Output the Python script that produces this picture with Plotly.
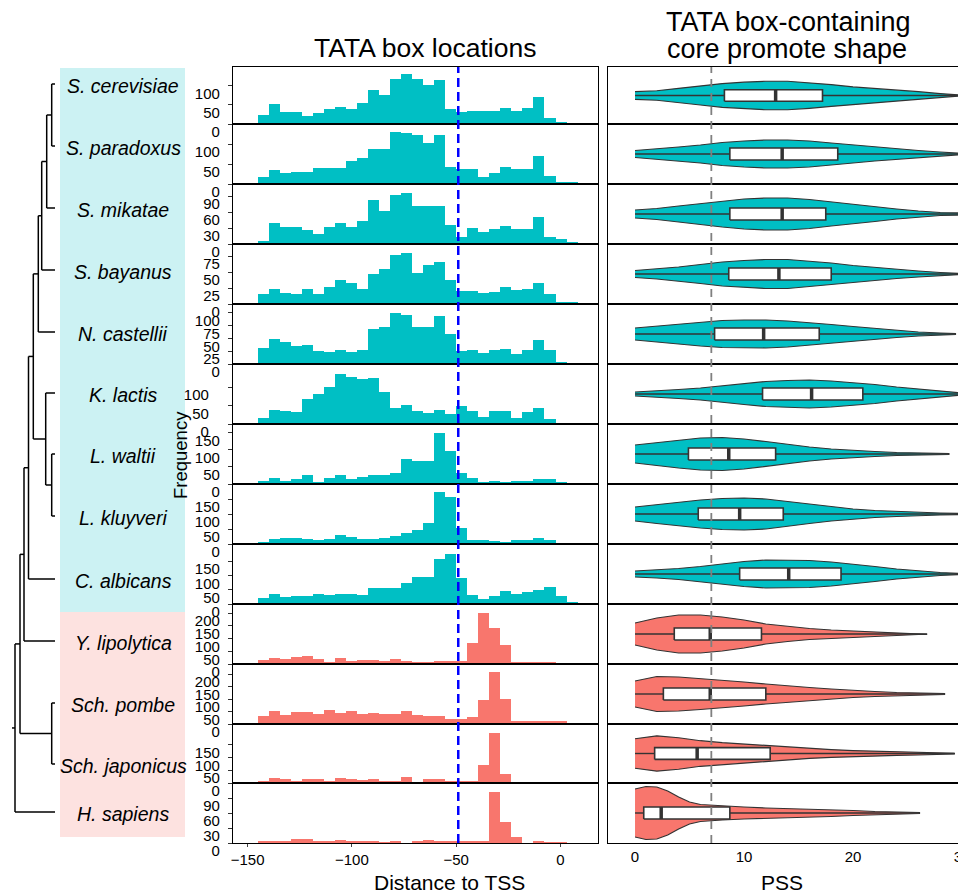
import plotly.graph_objects as go
import numpy as np

W, H = 966, 894
PAGE_OFFSET = 8  # default body margin of the html page

# ---------------- DATA ----------------
species = ["S. cerevisiae", "S. paradoxus", "S. mikatae", "S. bayanus", "N. castellii",
           "K. lactis", "L. waltii", "L. kluyveri", "C. albicans",
           "Y. lipolytica", "Sch. pombe", "Sch. japonicus", "H. sapiens"]
clade = ["A"] * 9 + ["B"] * 4

# histogram bins (distance to TSS)
bin_start = -145.2
bin_width = 5.29
n_bins = 29
bin_centers = [bin_start + bin_width * (i + 0.5) for i in range(n_bins)]

counts_scer = [24, 52, 32, 32, 22, 28, 39, 45, 39, 54, 87, 76, 117, 130, 117, 100, 113, 39, 30, 35, 35, 35, 42, 35, 42, 71, 16, 6, 2]
counts_spar = [18, 36, 27, 31, 31, 39, 39, 39, 57, 66, 88, 88, 129, 127, 123, 102, 123, 43, 37, 37, 18, 27, 43, 37, 37, 71, 21, 6, 3]
counts_smik = [6, 40, 32, 31, 26, 19, 32, 40, 31, 44, 83, 62, 92, 96, 71, 71, 71, 36, 13, 30, 23, 28, 34, 28, 28, 51, 13, 9, 2]
counts_sbay = [15, 24, 18, 15, 24, 15, 27, 38, 33, 24, 47, 55, 77, 80, 49, 61, 66, 37, 21, 21, 18, 19, 27, 22, 24, 33, 15, 2, 2]
counts_ncas = [31, 49, 43, 35, 38, 26, 24, 27, 24, 27, 69, 72, 99, 96, 72, 72, 94, 59, 26, 27, 22, 27, 29, 20, 27, 47, 27, 3, 1]
counts_klac = [17, 38, 35, 33, 68, 82, 101, 136, 128, 122, 125, 87, 44, 52, 35, 30, 38, 27, 49, 35, 19, 35, 35, 16, 33, 44, 14, 1, 1]
counts_lwal = [10, 18, 9, 15, 27, 6, 18, 27, 15, 21, 27, 27, 33, 74, 68, 68, 150, 98, 32, 18, 6, 9, 6, 9, 9, 15, 15, 4, 2]
counts_lklu = [7, 18, 20, 20, 18, 14, 18, 31, 24, 18, 18, 21, 28, 38, 48, 71, 173, 158, 54, 14, 14, 11, 8, 14, 14, 20, 14, 3, 1]
counts_calb = [21, 36, 26, 29, 29, 36, 33, 36, 36, 33, 57, 57, 57, 75, 96, 96, 159, 176, 92, 33, 19, 29, 47, 36, 43, 50, 61, 29, 8]
counts_ylip = [17, 25, 21, 29, 33, 21, 9, 25, 13, 17, 17, 13, 21, 13, 5, 5, 13, 13, 13, 84, 202, 143, 76, 5, 9, 9, 5, 1, 0]
counts_spom = [33, 53, 37, 49, 49, 41, 57, 45, 53, 41, 45, 41, 41, 53, 37, 33, 33, 21, 21, 29, 97, 209, 101, 13, 13, 13, 13, 13, 0]
counts_sjap = [8, 18, 14, 8, 14, 14, 8, 18, 14, 11, 14, 8, 8, 22, 3, 14, 14, 8, 8, 8, 69, 195, 34, 0, 3, 3, 3, 0, 0]
counts_hsap = [4, 4, 4, 9, 9, 4, 4, 7, 4, 4, 4, 2, 5, 0, 5, 7, 5, 4, 5, 4, 4, 102, 43, 12, 0, 4, 1, 1, 0]
hist_counts = [counts_scer, counts_spar, counts_smik, counts_sbay, counts_ncas, counts_klac,
               counts_lwal, counts_lklu, counts_calb, counts_ylip, counts_spom, counts_sjap, counts_hsap]

hist_ymax = [148, 150, 112.5, 94, 117, 163, 176, 200, 210, 236, 240, 230, 120]
hist_ticks = [[0, 50, 100], [0, 50, 100], [0, 30, 60, 90], [0, 25, 50, 75], [0, 25, 50, 75, 100],
              [0, 50, 100], [0, 50, 100, 150], [0, 50, 100, 150], [0, 50, 100, 150],
              [0, 50, 100, 150, 200], [0, 50, 100, 150, 200], [0, 50, 100, 150], [0, 30, 60, 90]]
tata_position = -49
dist_ticks = [-150, -100, -50, 0]

# violin profiles (PSS grid, half width) and box statistics
pss_std = [0, 2, 4, 6, 8, 10, 12, 14, 16, 18, 20, 22, 24, 26, 28]
violin_pss = [
    pss_std + [29.7], pss_std + [30.0], pss_std + [29.9], pss_std + [29.9], pss_std + [29.4],
    pss_std + [30.1], pss_std[:-1] + [28.8], pss_std + [30.1], pss_std + [29.8],
    pss_std[:-1] + [26.8], pss_std[:-1] + [28.4], pss_std + [29.3],
    [0, 1, 2, 3, 4, 5, 6, 8, 10, 12, 14, 16, 18, 20, 22, 24, 26.1],
]
violin_half = [
    [4, 5, 7.5, 10, 12.5, 14, 15, 15, 13.5, 11.5, 9, 7.5, 6, 4, 2, 0.5],
    [3.5, 5, 7, 9, 11.5, 13, 14, 14, 13, 11, 9, 7, 5, 3.5, 2, 0.5],
    [4, 5.5, 8, 10.5, 13, 15, 16, 16, 14.5, 12, 9.5, 7.5, 5, 3, 1.5, 1],
    [3.5, 5, 7, 9.5, 12, 13.5, 14.5, 14.5, 13, 11, 8.5, 6.5, 4.5, 3, 1.5, 0.5],
    [6, 8, 10, 12, 13.5, 14, 14, 13, 11.5, 9.5, 7.5, 5.5, 3.5, 2, 1, 0.5],
    [2, 3, 4.5, 6, 8, 10.5, 12.5, 13.5, 14, 13, 11.5, 9.5, 7, 5, 3, 1],
    [9, 11.5, 14, 16, 16.5, 15, 12.5, 9.5, 7, 5, 3.5, 2.5, 1.5, 1, 0.5],
    [7, 9.5, 12, 14, 15.5, 16, 15, 12.5, 9.5, 7, 5, 3.5, 2.5, 1.5, 1, 0.5],
    [3, 4, 5.5, 7.5, 10, 12.5, 14, 14, 13.5, 12, 10, 7.5, 5, 3, 1.5, 0.5],
    [11, 16, 19, 19, 17, 14, 10, 7.5, 5.5, 4, 3, 2, 1.5, 0.5, 0.3],
    [13, 17.5, 17, 15.5, 14, 12, 10, 8, 6.5, 5, 3.5, 2.5, 1.5, 1, 0.5],
    [15, 18, 16, 13, 11, 9.5, 8, 6.5, 5, 4, 3, 2.5, 2, 1.5, 1, 0.3],
    [24, 26.5, 26, 22, 16, 11, 8.5, 7, 6, 5, 4.5, 4, 3.5, 2.5, 1.5, 1, 0.5],
]
box_q1 = [8.2, 8.7, 8.7, 8.6, 7.3, 11.7, 4.9, 5.8, 9.6, 3.6, 2.6, 1.8, 0.8]
box_med = [12.9, 13.5, 13.5, 13.2, 11.8, 16.2, 8.6, 9.6, 14.1, 6.9, 6.9, 5.7, 2.4]
box_q3 = [17.2, 18.6, 17.5, 18.0, 16.9, 20.9, 12.9, 13.6, 18.9, 11.6, 12.0, 12.4, 8.7]
box_min = [0] * 13
box_max = [29.7, 30.0, 29.9, 29.9, 29.4, 30.1, 28.8, 30.1, 29.8, 26.8, 28.4, 29.3, 26.1]
pss_reference = 7
pss_ticks = [0, 10, 20, 30]

# phylogeny: internal nodes -> children, node depth (branch position)
tree_children = {
    "n1": ["S. cerevisiae", "S. paradoxus"], "n2": ["n1", "S. mikatae"], "n3": ["n2", "S. bayanus"],
    "n4": ["n3", "N. castellii"], "n5": ["L. waltii", "L. kluyveri"], "n6": ["K. lactis", "n5"],
    "n7": ["n4", "n6"], "n8": ["n7", "C. albicans"], "n9": ["n8", "Y. lipolytica"],
    "n10": ["Sch. pombe", "Sch. japonicus"], "n11": ["n9", "n10"], "n12": ["n11", "H. sapiens"],
}
node_depth = {"n1": 51.7, "n2": 46.7, "n3": 41.7, "n4": 38.3, "n5": 51.7, "n6": 45.7, "n7": 33.3,
              "n8": 28.5, "n9": 24, "n10": 51.7, "n11": 20, "n12": 15}
tip_depth = 55
root_depth = 12

# ---------------- LAYOUT GEOMETRY ----------------
FONT = "Arial, 'Liberation Sans', sans-serif"
TEAL = "#00BFC4"
RED = "#F8766D"
OUTL = "#333333"
BOX_HALF = 6
FRAME_W = 1.2
row_edges = [67, 124, 184, 244, 304, 364, 424, 484, 544, 604, 664, 724, 783, 843]
leaf_y = [84, 146, 208, 270, 332, 393, 454, 516, 579, 641, 703, 764, 812]
hist_x = (233, 598)
viol_x = (608, W + PAGE_OFFSET)


def pxx(p):
    return (p - PAGE_OFFSET) / W


def pxy(p):
    return 1 - (p - PAGE_OFFSET) / H


fig = go.Figure()
layout = dict(
    template="none",
    width=W, height=H, margin=dict(l=0, r=0, t=0, b=0, autoexpand=False),
    paper_bgcolor="white", plot_bgcolor="rgba(0,0,0,0)",
    showlegend=False, bargap=0, font=dict(family=FONT, color="black"),
)

for i, sp in enumerate(species):
    color = TEAL if clade[i] == "A" else RED
    top, bot = row_edges[i], row_edges[i + 1]
    ydom = [pxy(bot), pxy(top)]
    a = i + 1
    b = i + 14
    last = (i == 12)
    # histogram
    fig.add_trace(go.Bar(x=bin_centers, y=hist_counts[i], width=bin_width,
                         marker=dict(color=color, line=dict(width=0)),
                         xaxis=f"x{a}", yaxis=f"y{a}", hoverinfo="skip"))
    layout[f"xaxis{a}"] = dict(domain=[pxx(hist_x[0]), pxx(hist_x[1])], range=[-157, 18], anchor=f"y{a}",
                               showline=True, mirror=True, linecolor="black", linewidth=FRAME_W,
                               showgrid=False, zeroline=False, fixedrange=True, automargin=False,
                               showticklabels=last, ticks="outside" if last else "", ticklen=3,
                               tickvals=dist_ticks, tickfont=dict(size=15, color="black"))
    layout[f"yaxis{a}"] = dict(domain=ydom, range=[0, hist_ymax[i]], anchor=f"x{a}",
                               showline=True, mirror=True, linecolor="black", linewidth=FRAME_W,
                               showgrid=False, zeroline=False, fixedrange=True, automargin=False,
                               tickvals=hist_ticks[i], ticks="outside", ticklen=4, tickcolor="#333",
                               tickfont=dict(size=15, color="black"), ticklabelshift=8,
                               ticklabelstandoff=16 if sp == "K. lactis" else 5,
                               ticklabeloverflow="allow")
    # violin body
    xs = violin_pss[i] + violin_pss[i][::-1]
    ys = violin_half[i] + [-h for h in violin_half[i][::-1]]
    fig.add_trace(go.Scatter(x=xs, y=ys, fill="toself", fillcolor=color, mode="lines",
                             line=dict(color=OUTL, width=1.2),
                             xaxis=f"x{b}", yaxis=f"y{b}", hoverinfo="skip"))
    # whiskers (lower and upper)
    fig.add_trace(go.Scatter(x=[box_min[i], box_q1[i]], y=[0, 0], mode="lines",
                             line=dict(color=OUTL, width=1.4), xaxis=f"x{b}", yaxis=f"y{b}", hoverinfo="skip"))
    fig.add_trace(go.Scatter(x=[box_q3[i], box_max[i]], y=[0, 0], mode="lines",
                             line=dict(color=OUTL, width=1.4), xaxis=f"x{b}", yaxis=f"y{b}", hoverinfo="skip"))
    # box
    fig.add_trace(go.Scatter(x=[box_q1[i], box_q3[i], box_q3[i], box_q1[i], box_q1[i]],
                             y=[-BOX_HALF, -BOX_HALF, BOX_HALF, BOX_HALF, -BOX_HALF],
                             fill="toself", fillcolor="white", mode="lines",
                             line=dict(color=OUTL, width=1.6),
                             xaxis=f"x{b}", yaxis=f"y{b}", hoverinfo="skip"))
    # median
    fig.add_trace(go.Scatter(x=[box_med[i], box_med[i]], y=[-BOX_HALF, BOX_HALF], mode="lines",
                             line=dict(color=OUTL, width=3.5), xaxis=f"x{b}", yaxis=f"y{b}", hoverinfo="skip"))
    layout[f"xaxis{b}"] = dict(domain=[pxx(viol_x[0]), pxx(viol_x[1])], range=[-2.48, 31.1], anchor=f"y{b}",
                               showline=True, mirror=True, linecolor="black", linewidth=FRAME_W,
                               showgrid=False, zeroline=False, fixedrange=True, automargin=False,
                               showticklabels=last, ticks="", tickvals=pss_ticks,
                               tickfont=dict(size=15, color="black"), ticklabeloverflow="allow")
    layout[f"yaxis{b}"] = dict(domain=ydom, range=[-30, 30], anchor=f"x{b}",
                               showline=True, mirror=False, linecolor="black", linewidth=FRAME_W,
                               showgrid=False, zeroline=False, showticklabels=False, ticks="",
                               fixedrange=True, automargin=False)

# tree
ypos = {sp: leaf_y[i] for i, sp in enumerate(species)}
xpos = {sp: tip_depth for sp in species}
for n in ["n1", "n2", "n3", "n4", "n5", "n6", "n7", "n8", "n9", "n10", "n11", "n12"]:
    c1, c2 = tree_children[n]
    ypos[n] = (ypos[c1] + ypos[c2]) / 2
    xpos[n] = node_depth[n]
tx, ty = [], []
for n, (c1, c2) in tree_children.items():
    tx += [xpos[n], xpos[n], None]
    ty += [ypos[c1], ypos[c2], None]
    for c in (c1, c2):
        tx += [xpos[n], xpos[c], None]
        ty += [ypos[c], ypos[c], None]
tx += [root_depth, xpos["n12"], None]
ty += [ypos["n12"], ypos["n12"], None]
fig.add_trace(go.Scatter(x=tx, y=ty, mode="lines", line=dict(color="black", width=1.5),
                         xaxis="x27", yaxis="y27", hoverinfo="skip"))
layout["xaxis27"] = dict(domain=[pxx(PAGE_OFFSET), pxx(70)], range=[PAGE_OFFSET, 70], visible=False,
                         fixedrange=True, anchor="y27")
layout["yaxis27"] = dict(domain=[0, 1], range=[H + PAGE_OFFSET, PAGE_OFFSET], visible=False,
                         fixedrange=True, anchor="x27")

shapes = [
    dict(type="rect", xref="paper", yref="paper", x0=pxx(60), x1=pxx(185), y0=pxy(612), y1=pxy(68),
         fillcolor="#CCF2F3", line=dict(width=0), layer="below"),
    dict(type="rect", xref="paper", yref="paper", x0=pxx(60), x1=pxx(185), y0=pxy(837), y1=pxy(612),
         fillcolor="#FDE2E0", line=dict(width=0), layer="below"),
    dict(type="line", xref="x13", yref="paper", x0=tata_position, x1=tata_position,
         y0=pxy(row_edges[-1]), y1=pxy(row_edges[0]), line=dict(color="blue", width=2.5, dash="9px,5px")),
    dict(type="line", xref="x26", yref="paper", x0=pss_reference, x1=pss_reference,
         y0=pxy(row_edges[-1]), y1=pxy(row_edges[0]), line=dict(color="#808080", width=1.8, dash="8px,6px")),
]
layout["shapes"] = shapes

annotations = []
for i, sp in enumerate(species):
    annotations.append(dict(text=f"<i>{sp}</i>", x=pxx(123), y=pxy(leaf_y[i] + 2), xref="paper", yref="paper",
                            showarrow=False, font=dict(size=19.5), xanchor="center", yanchor="middle"))
annotations += [
    dict(text="Frequency", x=pxx(180), y=pxy(455), xref="paper", yref="paper", showarrow=False,
         textangle=-90, font=dict(size=18.5), xanchor="center", yanchor="middle"),
    dict(text="TATA box locations", x=pxx(425), y=pxy(48), xref="paper", yref="paper", showarrow=False,
         font=dict(size=26.5), xanchor="center", yanchor="middle"),
    dict(text="TATA box-containing", x=pxx(788), y=pxy(22), xref="paper", yref="paper", showarrow=False,
         font=dict(size=27), xanchor="center", yanchor="middle"),
    dict(text="core promote shape", x=pxx(787), y=pxy(49), xref="paper", yref="paper", showarrow=False,
         font=dict(size=27), xanchor="center", yanchor="middle"),
    dict(text="Distance to TSS", x=pxx(449), y=pxy(882), xref="paper", yref="paper", showarrow=False,
         font=dict(size=21), xanchor="center", yanchor="middle"),
    dict(text="PSS", x=pxx(782), y=pxy(882), xref="paper", yref="paper", showarrow=False,
         font=dict(size=21), xanchor="center", yanchor="middle"),
]
layout["annotations"] = annotations

fig.update_layout(**layout)
fig.write_html("out.html")
